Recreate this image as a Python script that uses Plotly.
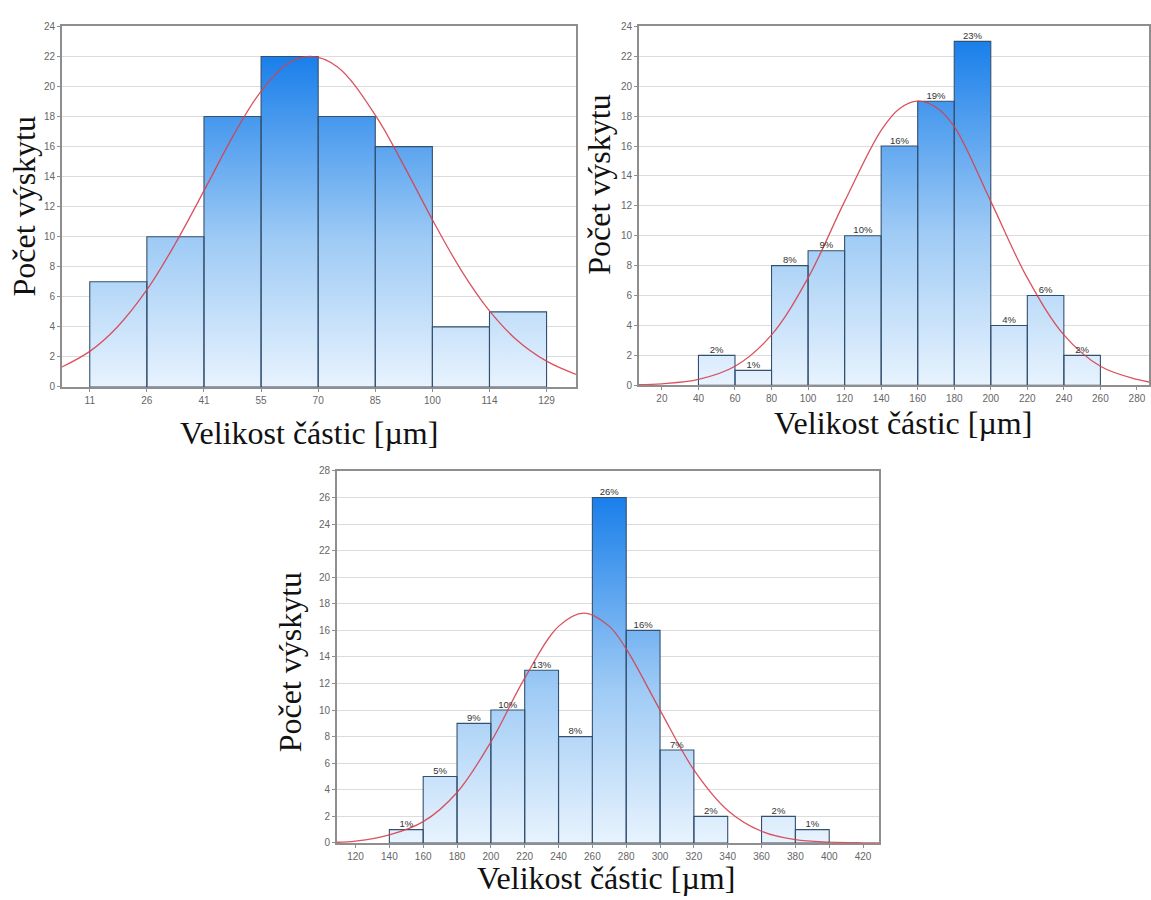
import plotly.graph_objects as go

W, H = 1151, 900

# ---------------- data ----------------
# Panel 1 (top left)
edges1 = [11, 25.75, 40.5, 55.25, 70, 84.75, 99.5, 114.25, 129]
edge_labels1 = ["11", "26", "41", "55", "70", "85", "100", "114", "129"]
counts1 = [7, 10, 18, 22, 18, 16, 4, 5]
curve1_x = [3.8, 11, 18, 26, 33, 41, 48, 55, 62, 68, 75, 85, 92, 100, 107, 114, 121, 129, 136.6]
curve1_y = [1.33, 2.37, 3.96, 6.56, 9.5, 13.3, 16.7, 19.6, 21.5, 22.0, 21.3, 18.0, 14.8, 10.9, 7.75, 5.15, 3.2, 1.72, 0.84]

# Panel 2 (top right)
edges2 = [40, 60, 80, 100, 120, 140, 160, 180, 200, 220, 240, 260]
counts2 = [2, 1, 8, 9, 10, 16, 19, 23, 4, 6, 2]
pct2 = ["2%", "1%", "8%", "9%", "10%", "16%", "19%", "23%", "4%", "6%", "2%"]
ticks2 = [20, 40, 60, 80, 100, 120, 140, 160, 180, 200, 220, 240, 260, 280]
curve2_x = [7.4, 20, 40, 60, 80, 100, 120, 140, 150, 160, 170, 180, 200, 220, 240, 260, 280, 286.6]
curve2_y = [0.04, 0.1, 0.39, 1.27, 3.37, 7.18, 12.3, 17.05, 18.5, 19.0, 18.6, 17.3, 12.3, 7.18, 3.37, 1.27, 0.39, 0.22]

# Panel 3 (bottom)
edges3 = [140, 160, 180, 200, 220, 240, 260, 280, 300, 320, 340, 360, 380, 400]
counts3 = [1, 5, 9, 10, 13, 8, 26, 16, 7, 2, 0, 2, 1]
pct3 = ["1%", "5%", "9%", "10%", "13%", "8%", "26%", "16%", "7%", "2%", "", "2%", "1%"]
ticks3 = [120, 140, 160, 180, 200, 220, 240, 260, 280, 300, 320, 340, 360, 380, 400, 420]
curve3_x = [109, 120, 140, 160, 180, 200, 220, 240, 255, 270, 280, 300, 320, 340, 360, 380, 400, 420, 429.7]
curve3_y = [0.05, 0.13, 0.6, 1.6, 3.8, 7.6, 12.4, 16.3, 17.3, 16.3, 14.6, 10.0, 5.5, 2.45, 0.88, 0.25, 0.06, 0.01, 0.005]

# ---------------- style ----------------
GRAD = [[0, "#eaf4fe"], [0.45, "#9fcbf5"], [1, "#1a7fea"]]
EDGE = "#34506f"
CURVE = "rgba(214,64,78,0.9)"
TICKFONT = dict(family="Liberation Sans, Arial", size=10, color="#666666")
TITLEFONT = dict(family="Liberation Serif, Times New Roman", size=32, color="#111111")


def px2x(p):
    return p / W


def px2y(p):
    return 1 - p / H


def bar_path(edges, counts):
    xs, ys = [], []
    for i, c in enumerate(counts):
        if c <= 0:
            continue
        x0, x1 = edges[i], edges[i + 1]
        xs += [x0, x0, x1, x1, x0, None]
        ys += [0, c, c, 0, 0, None]
    return xs, ys


fig = go.Figure()

panels = [
    dict(edges=edges1, counts=counts1, labels=None, cx=curve1_x, cy=curve1_y, ax=""),
    dict(edges=edges2, counts=counts2, labels=pct2, cx=curve2_x, cy=curve2_y, ax="2"),
    dict(edges=edges3, counts=counts3, labels=pct3, cx=curve3_x, cy=curve3_y, ax="3"),
]

for p in panels:
    xs, ys = bar_path(p["edges"], p["counts"])
    fig.add_trace(go.Scatter(
        x=xs, y=ys, mode="lines", fill="toself",
        fillgradient=dict(type="vertical", colorscale=GRAD, start=0, stop=max(p["counts"])),
        line=dict(color=EDGE, width=1.1),
        xaxis="x" + p["ax"], yaxis="y" + p["ax"], showlegend=False, hoverinfo="skip",
    ))
    fig.add_trace(go.Scatter(
        x=p["cx"], y=p["cy"], mode="lines", line=dict(color=CURVE, width=1.3, shape="spline"),
        xaxis="x" + p["ax"], yaxis="y" + p["ax"], showlegend=False, hoverinfo="skip",
    ))
    if p["labels"]:
        mids = [(p["edges"][i] + p["edges"][i + 1]) / 2 for i in range(len(p["counts"]))]
        fig.add_trace(go.Scatter(
            x=mids, y=p["counts"], mode="text", text=p["labels"], textposition="top center",
            textfont=dict(family="Liberation Sans, Arial", size=9.5, color="#333333"),
            xaxis="x" + p["ax"], yaxis="y" + p["ax"], showlegend=False, hoverinfo="skip",
        ))

axis_common = dict(
    showline=True, linecolor="#8e8e8e", linewidth=1.6, mirror=True,
    ticks="outside", ticklen=3, tickcolor="#8e8e8e", tickfont=TICKFONT,
    zeroline=False,
)

fig.update_layout(
    width=W, height=H, margin=dict(l=0, r=0, t=0, b=0),
    paper_bgcolor="white", plot_bgcolor="white",
    xaxis=dict(domain=[px2x(62), px2x(577)], range=[3.8, 136.6], tickvals=edges1,
               ticktext=edge_labels1, showgrid=False, anchor="y", **axis_common),
    yaxis=dict(domain=[px2y(386.7), px2y(21.7)], range=[0, 24], dtick=2, tick0=0,
               showgrid=True, gridcolor="#dcdcdc", gridwidth=1.3, anchor="x", **axis_common),
    xaxis2=dict(domain=[px2x(640), 1.0], range=[7.4, 286.6], tickvals=ticks2,
                showgrid=False, anchor="y2", **axis_common),
    yaxis2=dict(domain=[px2y(385), px2y(21.7)], range=[0, 24], dtick=2, tick0=0,
                showgrid=True, gridcolor="#dcdcdc", gridwidth=1.3, anchor="x2", **axis_common),
    xaxis3=dict(domain=[px2x(337.5), px2x(881)], range=[109, 429.7], tickvals=ticks3,
                showgrid=False, anchor="y3", **axis_common),
    yaxis3=dict(domain=[px2y(848.3), px2y(471.7)], range=[0, 28], dtick=2, tick0=0,
                showgrid=True, gridcolor="#dcdcdc", gridwidth=1.3, anchor="x3", **axis_common),
)

ytitle = "Počet výskytu"
xtitle = "Velikost částic [µm]"
for (cx, cy) in [(24, 204), (600, 182), (290, 665)]:
    fig.add_annotation(x=px2x(cx), y=px2y(cy), xref="paper", yref="paper", text=ytitle,
                       textangle=-90, showarrow=False, font=TITLEFONT,
                       xanchor="center", yanchor="middle")
for (cx, cy) in [(310, 433), (905, 423), (607, 884)]:
    fig.add_annotation(x=px2x(cx), y=px2y(cy), xref="paper", yref="paper", text=xtitle,
                       showarrow=False, font=TITLEFONT, xanchor="center", yanchor="middle")

fig.write_html("out.html")
